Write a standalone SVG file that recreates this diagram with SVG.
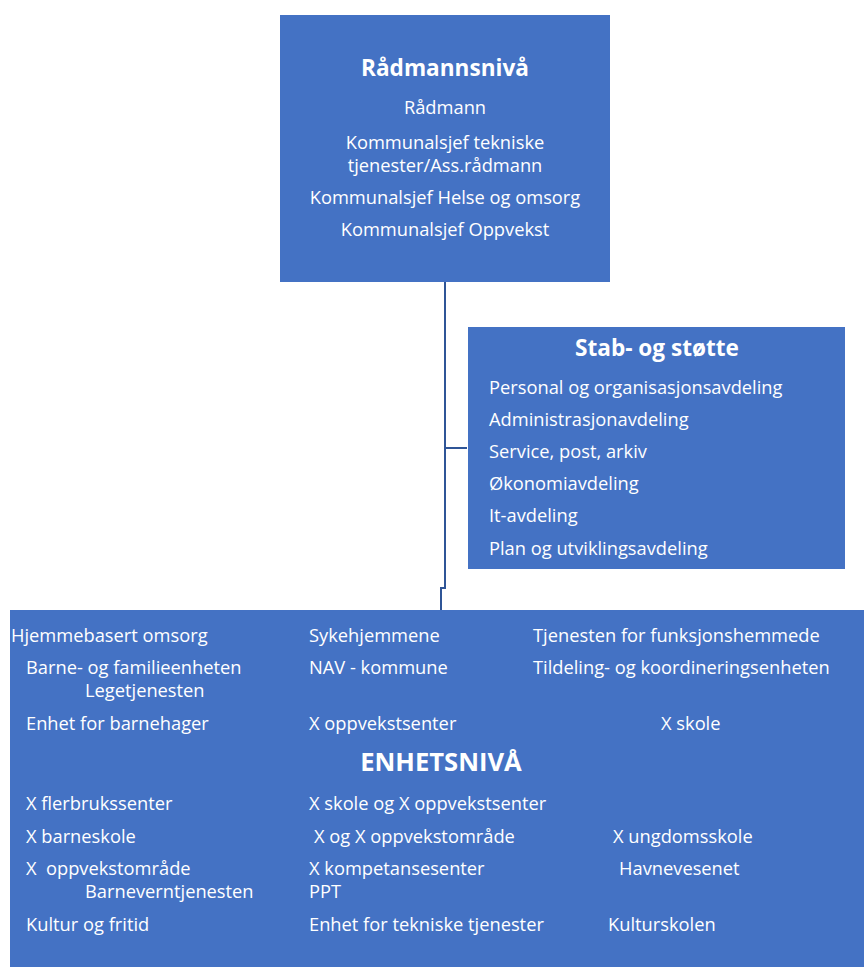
<svg xmlns="http://www.w3.org/2000/svg" width="864" height="967" viewBox="0 0 864 967">
<style>
.box{fill:#4472C4;}
text{font-family:"Open Sans","Noto Sans",sans-serif;fill:#FFFFFF;font-size:18.3px;}
.t{font-weight:bold;font-size:22.6px;}
.big{font-weight:bold;font-size:25.6px;}
.c{text-anchor:middle;}
.conn{fill:none;stroke:#2F5597;stroke-width:2;}
</style>
<rect width="864" height="967" fill="#FFFFFF"/>
<g id="connectors">
<path class="conn" d="M445,282 V588 H441 V610"/>
<path class="conn" d="M445,448 H467"/>
</g>
<g id="radmannsniva">
<rect class="box" x="280" y="15" width="330" height="267"/>
<text class="t c" x="445" y="76">Rådmannsnivå</text>
<text class="c" x="445" y="114">Rådmann</text>
<text class="c" x="445" y="149">Kommunalsjef tekniske</text>
<text class="c" x="445" y="172">tjenester/Ass.rådmann</text>
<text class="c" x="445" y="204">Kommunalsjef Helse og omsorg</text>
<text class="c" x="445" y="236">Kommunalsjef Oppvekst</text>
</g>
<g id="stab">
<rect class="box" x="468" y="327" width="377" height="242"/>
<text class="t c" x="657" y="356">Stab- og støtte</text>
<text x="489" y="394">Personal og organisasjonsavdeling</text>
<text x="489" y="426">Administrasjonavdeling</text>
<text x="489" y="458">Service, post, arkiv</text>
<text x="489" y="490">Økonomiavdeling</text>
<text x="489" y="522">It-avdeling</text>
<text x="489" y="555">Plan og utviklingsavdeling</text>
</g>
<g id="enhetsniva">
<rect class="box" x="10" y="610" width="854" height="357"/>
<text x="11" y="642">Hjemmebasert omsorg</text>
<text x="309" y="642">Sykehjemmene</text>
<text x="533" y="642">Tjenesten for funksjonshemmede</text>
<text x="26" y="674">Barne- og familieenheten</text>
<text x="309" y="674">NAV - kommune</text>
<text x="533" y="674">Tildeling- og koordineringsenheten</text>
<text x="85" y="697">Legetjenesten</text>
<text x="26" y="730">Enhet for barnehager</text>
<text x="309" y="730">X oppvekstsenter</text>
<text x="661" y="730">X skole</text>
<text class="big c" x="441" y="771">ENHETSNIVÅ</text>
<text x="26" y="810">X flerbrukssenter</text>
<text x="309" y="810">X skole og X oppvekstsenter</text>
<text x="26" y="843">X barneskole</text>
<text x="314" y="843">X og X oppvekstområde</text>
<text x="613" y="843">X ungdomsskole</text>
<text x="26" y="875">X</text>
<text x="46" y="875">oppvekstområde</text>
<text x="309" y="875">X kompetansesenter</text>
<text x="619" y="875">Havnevesenet</text>
<text x="85" y="898">Barneverntjenesten</text>
<text x="309" y="898">PPT</text>
<text x="26" y="931">Kultur og fritid</text>
<text x="309" y="931">Enhet for tekniske tjenester</text>
<text x="608" y="931">Kulturskolen</text>
</g>
</svg>
